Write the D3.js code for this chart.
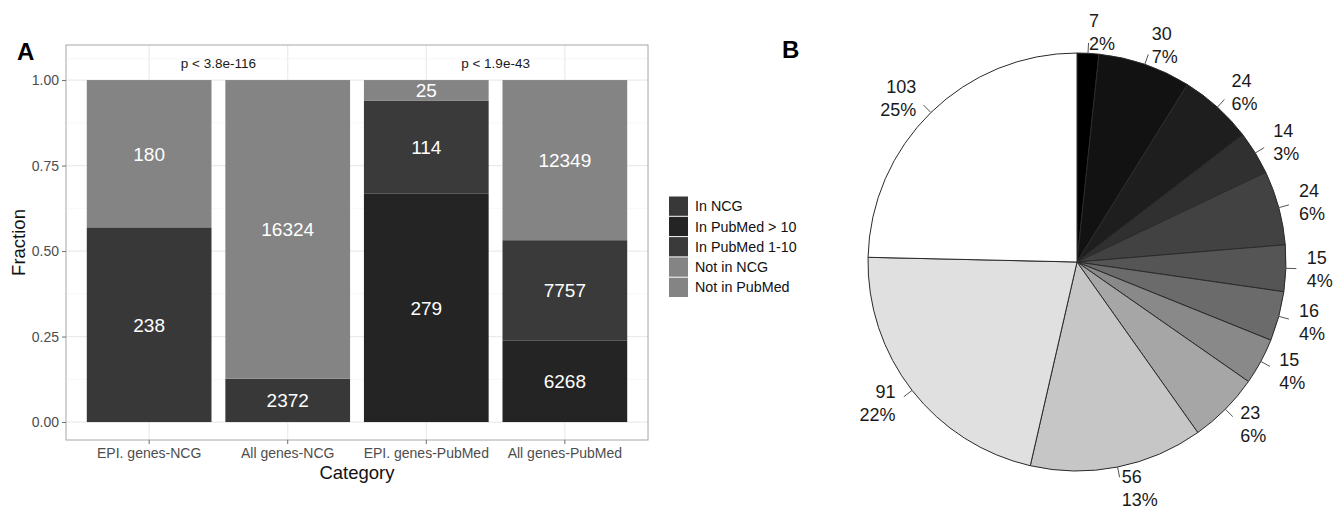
<!DOCTYPE html>
<html>
<head>
<meta charset="utf-8">
<script src="https://cdn.jsdelivr.net/npm/d3@7"></script>
<style>
  html, body { margin: 0; padding: 0; background: #fff; }
  svg { display: block; font-family: "Liberation Sans", Arial, Helvetica, sans-serif; }
</style>
</head>
<body>
<svg id="fig" width="1334" height="507"></svg>
<script>
// ---- Panel A: stacked fraction bars ----
const barCategories = ["EPI. genes-NCG", "All genes-NCG", "EPI. genes-PubMed", "All genes-PubMed"];
const groupNames = ["In NCG", "In PubMed > 10", "In PubMed 1-10", "Not in NCG", "Not in PubMed"];
const inNCG         = [238, 2372, 0, 0];
const inPubMedGt10  = [0, 0, 279, 6268];
const inPubMed1to10 = [0, 0, 114, 7757];
const notInNCG      = [180, 16324, 0, 0];
const notInPubMed   = [0, 0, 25, 12349];
const groupColors   = ["#383838", "#242424", "#3a3a3a", "#848484", "#848484"];
const yTicks = [0, 0.25, 0.5, 0.75, 1];
const pLabels = [
  { between: [0, 1], text: "p < 3.8e-116" },
  { between: [2, 3], text: "p < 1.9e-43" }
];

// ---- Panel B: pie of counts ----
const pieValues = [7, 30, 24, 14, 24, 15, 16, 15, 23, 56, 91, 103];
const pieColors = ["#000000", "#121212", "#1e1e1e", "#303030", "#424242", "#555555",
                   "#6b6b6b", "#898989", "#a6a6a6", "#c6c6c6", "#e0e0e0", "#ffffff"];

const svg = d3.select("#fig");
svg.append("rect").attr("width", 1334).attr("height", 507).attr("fill", "#fff");

// ===== Panel A =====
const panel = { left: 66, right: 648, top: 45, bottom: 440 };
const x = d3.scaleBand().domain(barCategories)
  .range([panel.left, panel.right]).paddingInner(0.1).paddingOuter(0.15);
const y = d3.scaleLinear().domain([-0.0525, 1.1025]).range([panel.bottom, panel.top]);

const A = svg.append("g");

// grid: minor then major
const minor = [0.125, 0.375, 0.625, 0.875, 1.0625].filter(v => v < 1.1025);
A.selectAll("line.minor").data(minor).join("line")
  .attr("x1", panel.left).attr("x2", panel.right)
  .attr("y1", d => y(d)).attr("y2", d => y(d))
  .attr("stroke", "#f3f3f3").attr("stroke-width", 0.7);
A.selectAll("line.hmajor").data(yTicks).join("line")
  .attr("x1", panel.left).attr("x2", panel.right)
  .attr("y1", d => y(d)).attr("y2", d => y(d))
  .attr("stroke", "#ebebeb").attr("stroke-width", 1.2);
A.selectAll("line.vmajor").data(barCategories).join("line")
  .attr("x1", d => x(d) + x.bandwidth() / 2).attr("x2", d => x(d) + x.bandwidth() / 2)
  .attr("y1", panel.top).attr("y2", panel.bottom)
  .attr("stroke", "#ebebeb").attr("stroke-width", 1.2);

// stacked data
const series = [inNCG, inPubMedGt10, inPubMed1to10, notInNCG, notInPubMed];
const rows = barCategories.map((c, i) => {
  const r = { category: c };
  groupNames.forEach((g, k) => { r[g] = series[k][i]; });
  return r;
});
const stacked = d3.stack().keys(groupNames).offset(d3.stackOffsetExpand)(rows);

stacked.forEach((layer, k) => {
  A.selectAll(null).data(layer.filter(d => d.data[layer.key] > 0)).join("rect")
    .attr("x", d => x(d.data.category))
    .attr("width", x.bandwidth())
    .attr("y", d => y(d[1]))
    .attr("height", d => y(d[0]) - y(d[1]))
    .attr("fill", groupColors[k]);
});
stacked.forEach((layer) => {
  A.selectAll(null).data(layer.filter(d => d.data[layer.key] > 0)).join("text")
    .attr("x", d => x(d.data.category) + x.bandwidth() / 2)
    .attr("y", d => y((d[0] + d[1]) / 2))
    .attr("dy", "0.36em")
    .attr("text-anchor", "middle")
    .attr("font-size", 19)
    .attr("fill", "#ffffff")
    .text(d => d.data[layer.key]);
});

// p-value annotations
A.selectAll("text.p").data(pLabels).join("text")
  .attr("x", d => (x(barCategories[d.between[0]]) + x(barCategories[d.between[1]])) / 2 + x.bandwidth() / 2)
  .attr("y", y(1.05))
  .attr("dy", "0.36em")
  .attr("text-anchor", "middle")
  .attr("font-size", 13.5)
  .attr("fill", "#1a1a1a")
  .text(d => d.text);

// panel border
A.append("rect")
  .attr("x", panel.left).attr("y", panel.top)
  .attr("width", panel.right - panel.left).attr("height", panel.bottom - panel.top)
  .attr("fill", "none").attr("stroke", "#a6a6a6").attr("stroke-width", 1);

// axes
const yAxis = d3.axisLeft(y).tickValues(yTicks).tickFormat(d3.format(".2f")).tickSize(4).tickPadding(3);
const yg = A.append("g").attr("transform", `translate(${panel.left},0)`).call(yAxis);
const xAxis = d3.axisBottom(x).tickSize(4).tickPadding(4);
const xg = A.append("g").attr("transform", `translate(0,${panel.bottom})`).call(xAxis);
[yg, xg].forEach(g => {
  g.select(".domain").remove();
  g.selectAll(".tick line").attr("stroke", "#6e6e6e");
  g.selectAll(".tick text").attr("fill", "#4d4d4d").attr("font-size", 14)
    .attr("font-family", "'Liberation Sans', Arial, sans-serif");
});

A.append("text")
  .attr("transform", `translate(25,${(panel.top + panel.bottom) / 2}) rotate(-90)`)
  .attr("text-anchor", "middle").attr("font-size", 18.5).attr("fill", "#111")
  .text("Fraction");
A.append("text")
  .attr("x", (panel.left + panel.right) / 2).attr("y", 479)
  .attr("text-anchor", "middle").attr("font-size", 18.5).attr("fill", "#111")
  .text("Category");

// legend
const legend = A.append("g").attr("transform", "translate(669,196)");
const keyH = 20.3;
groupNames.forEach((g, k) => {
  legend.append("rect")
    .attr("x", 0).attr("y", k * keyH + 0.5)
    .attr("width", 19).attr("height", keyH - 1)
    .attr("fill", groupColors[k]);
  legend.append("text")
    .attr("x", 26).attr("y", k * keyH + keyH / 2)
    .attr("dy", "0.36em").attr("font-size", 14.3).attr("fill", "#111")
    .text(g);
});

svg.append("text").attr("x", 17).attr("y", 60)
  .attr("font-size", 24).attr("font-weight", "bold").attr("fill", "#000").text("A");

// ===== Panel B =====
const cx = 1077, cy = 262, R = 209;
const total = d3.sum(pieValues);
const arcs = d3.pie().sort(null).value(d => d)(pieValues);
const arc = d3.arc().innerRadius(0).outerRadius(R);
const B = svg.append("g").attr("transform", `translate(${cx},${cy})`);

B.selectAll("path").data(arcs).join("path")
  .attr("d", arc)
  .attr("fill", (d, i) => pieColors[i])
  .attr("stroke", "#2a2a2a").attr("stroke-width", 1)
  .attr("stroke-linejoin", "round");

arcs.forEach(d => {
  const mid = (d.startAngle + d.endAngle) / 2;
  const ux = Math.sin(mid), uy = -Math.cos(mid);
  B.append("line")
    .attr("x1", ux * R).attr("y1", uy * R)
    .attr("x2", ux * R * 1.05).attr("y2", uy * R * 1.05)
    .attr("stroke", "#555").attr("stroke-width", 1);
  const lx = ux * R * 1.1, ly = uy * R * 1.1;
  const t = B.append("text")
    .attr("text-anchor", ux < 0 ? "end" : "start")
    .attr("font-size", 18).attr("fill", "#1a1a1a");
  t.append("tspan").attr("x", lx).attr("y", ly - 11.5).attr("dy", "0.36em").text(d.data);
  t.append("tspan").attr("x", lx).attr("y", ly + 11.5).attr("dy", "0.36em")
    .text(Math.round(d.data / total * 100) + "%");
});

svg.append("text").attr("x", 782).attr("y", 58)
  .attr("font-size", 24).attr("font-weight", "bold").attr("fill", "#000").text("B");
</script>
</body>
</html>
